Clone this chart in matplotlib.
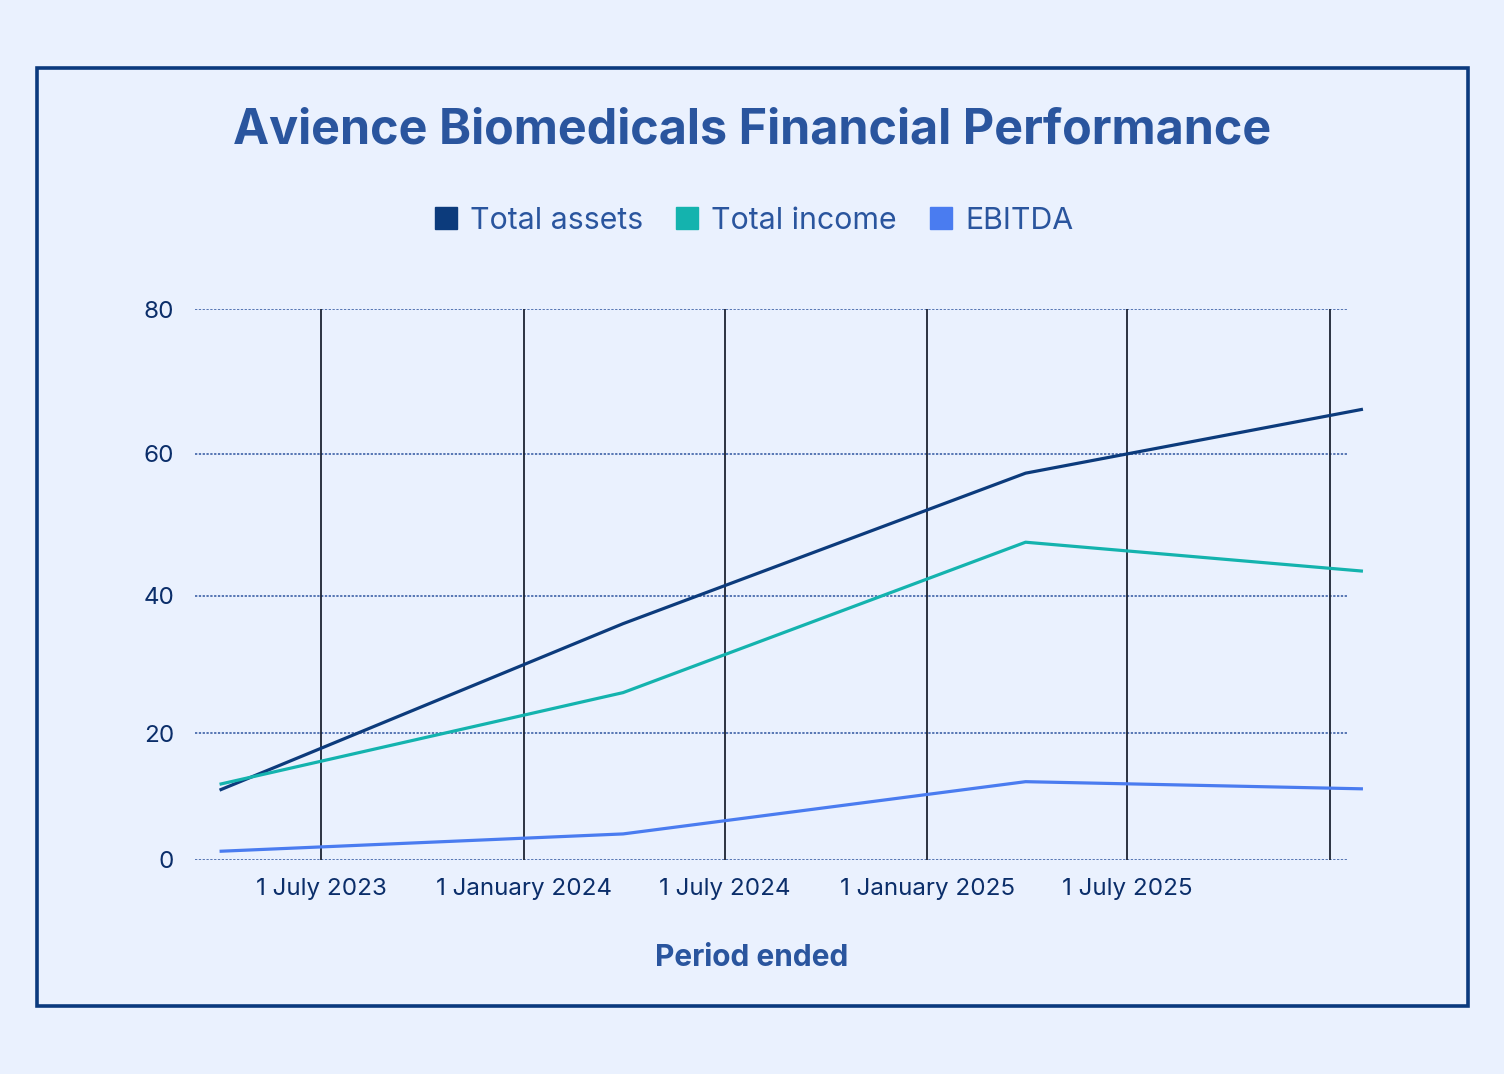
import matplotlib
matplotlib.use("Agg")
import matplotlib.pyplot as plt
from matplotlib.lines import Line2D
from matplotlib.patches import Rectangle
import numpy as np
import datetime as dt

# ---- data ----
periods = ["2023-03-31", "2024-03-31", "2025-03-31", "2026-01-31"]
total_assets = [11.4, 36.0, 57.3, 66.2]
total_income = [12.3, 26.0, 47.6, 43.5]
ebitda = [1.6, 4.5, 12.7, 11.6]
series_names = ["Total assets", "Total income", "EBITDA"]
series_colors = ["#0C3B7C", "#14B3AE", "#4A7CF0"]
tick_dates = ["2023-07-01", "2024-01-01", "2024-07-01", "2025-01-01", "2025-07-01", "2026-01-01"]
tick_labels = ["1 July 2023", "1 January 2024", "1 July 2024", "1 January 2025", "1 July 2025", ""]
y_ticks = [0, 20, 40, 60, 80]

BG = "#EAF1FE"
W, H = 1504, 1074
fig = plt.figure(figsize=(W / 100, H / 100), dpi=100, facecolor=BG)
plt.rcParams["font.family"] = ["Inter", "DejaVu Sans"]

# border
fig.patches.append(Rectangle((37 / W, 1 - 1006 / H), (1468 - 37) / W, (1006 - 68) / H,
                             transform=fig.transFigure, fill=False, edgecolor="#0B3A7E",
                             linewidth=2.6))

ax = fig.add_axes([195 / W, 1 - 860 / H, (1347 - 195) / W, (860 - 309) / H])
ax.set_facecolor(BG)

k = 1.06
ax.set_yscale("function", functions=(lambda v: np.sign(v) * np.abs(v) ** k,
                                     lambda v: np.sign(v) * np.abs(v) ** (1 / k)))
ax.set_ylim(0, 80)

dates = [dt.datetime.strptime(d, "%Y-%m-%d") for d in periods]
tdates = [dt.datetime.strptime(d, "%Y-%m-%d") for d in tick_dates]
px_per_day = (1130 - 324) / (tdates[4] - tdates[0]).days
shift = -3
left = tdates[0] - dt.timedelta(days=(324 + shift - 195) / px_per_day)
right = tdates[4] + dt.timedelta(days=(1347 - 1130 - shift) / px_per_day)
ax.set_xlim(left, right)

for vals, name, c in zip([total_assets, total_income, ebitda], series_names, series_colors):
    ax.plot(dates, vals, color=c, lw=2.3, clip_on=False, solid_capstyle="butt", zorder=3)

ax.set_xticks(tdates)
ax.set_xticklabels(tick_labels)
ax.set_yticks(y_ticks)
ax.set_yticklabels([str(v) for v in y_ticks])
ax.minorticks_off()

ax.grid(False)
for y in y_ticks:
    ax.axhline(y, color="#2F55A0", lw=1.1, ls=(0, (1.5, 1)), zorder=1)
for t in tdates:
    ax.axvline(t, color="#1C2333", lw=1.3, zorder=2)

for s in ax.spines.values():
    s.set_visible(False)
ax.tick_params(axis="both", length=0, colors="#0B2E6A", labelsize=17.4)
ax.tick_params(axis="x", pad=13)
ax.tick_params(axis="y", pad=15)

fig.text(752 / W, 1 - 958 / H, "Period ended", ha="center", va="center",
         fontsize=21.5, fontweight="bold", color="#2A559E")

fig.text(752 / W, 1 - 131 / H, "Avience Biomedicals Financial Performance", ha="center",
         va="center", fontsize=34.9, fontweight="bold", color="#2A559E")

handles = [Line2D([], [], marker="s", ls="none", markersize=16, color=c) for c in series_colors]
fig.legend(handles, series_names, loc="center", bbox_to_anchor=(752 / W, 1 - 221 / H),
           ncol=3, frameon=False, fontsize=21.8, labelcolor="#2A559E", handletextpad=0.3,
           columnspacing=0.95, handlelength=1.0)

fig.savefig("out.png", dpi=100, facecolor=BG)
